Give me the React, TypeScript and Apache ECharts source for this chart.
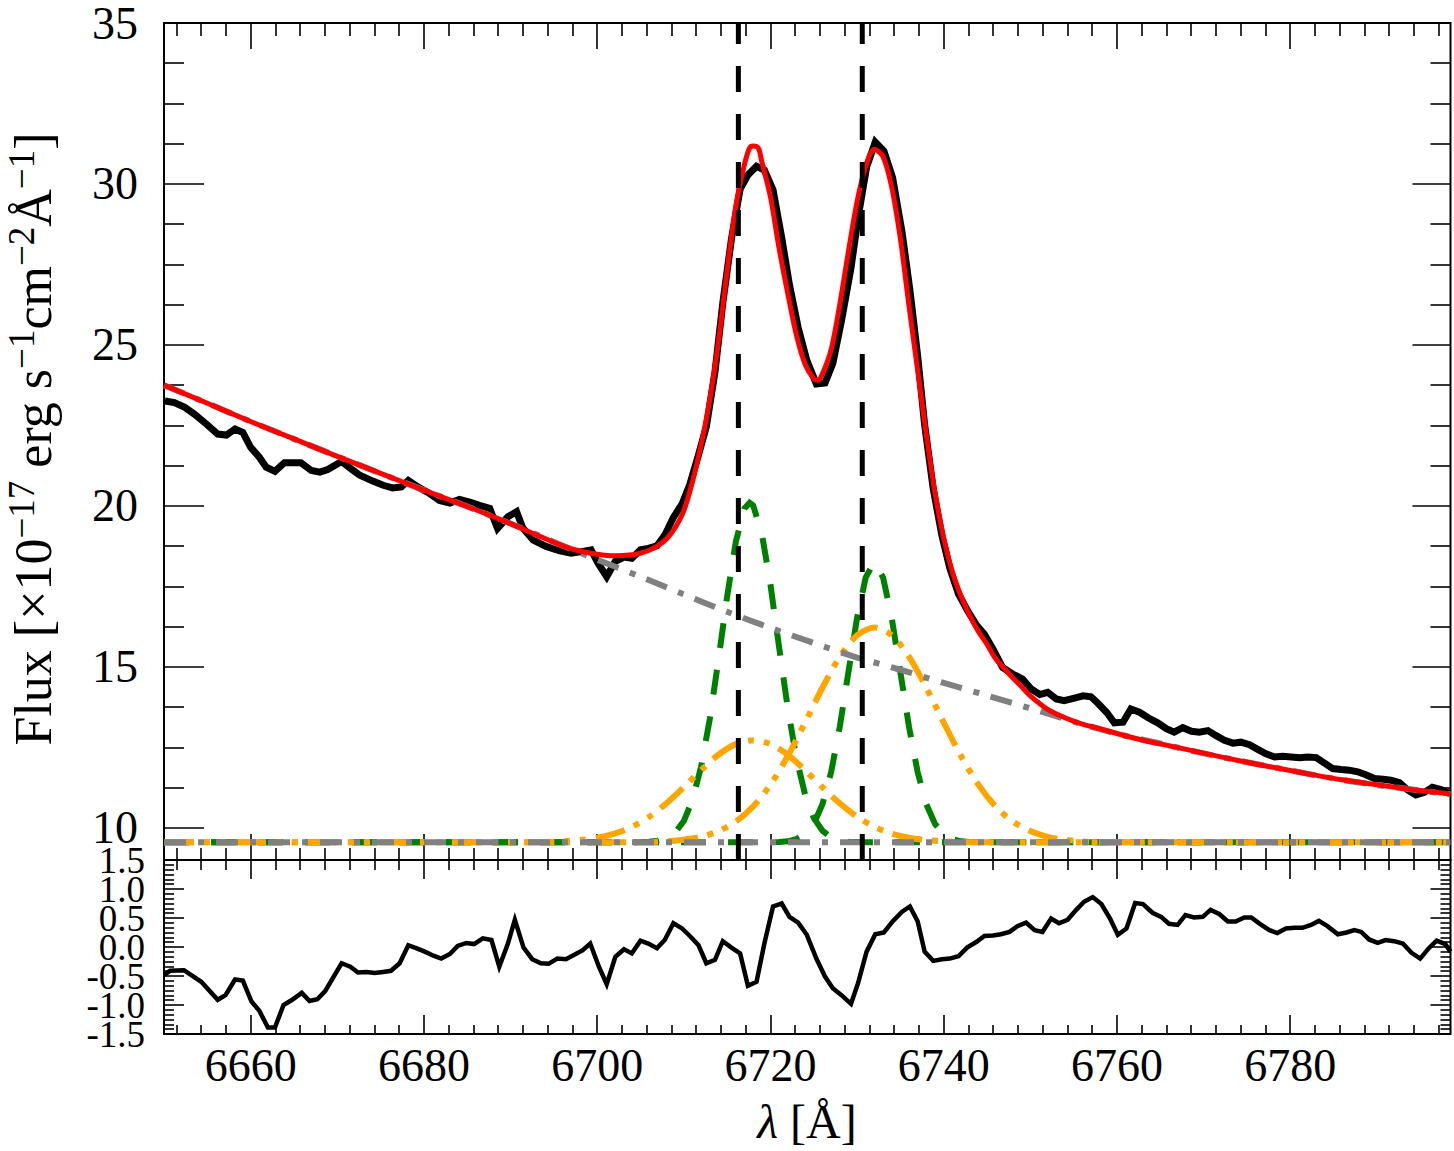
import React, { useEffect, useRef } from 'react';
import * as echarts from 'echarts';

const SERIF = 'Liberation Serif';

// ---------- axes ----------
const X_MIN = 6650;
const X_MAX = 6798.5;
const X_MAJOR = [6660, 6680, 6700, 6720, 6740, 6760, 6780];
const X_MINOR_SPLIT = 7;
const Y_TOP_MIN = 9;
const Y_TOP_MAX = 35;
const Y_TOP_MAJOR = [10, 15, 20, 25, 30, 35];
const Y_TOP_MINOR_STEP = 1.25;
const Y_RES_MIN = -1.5;
const Y_RES_MAX = 1.5;
const Y_RES_STEP = 0.5;
const Y_RES_LABELS_A = [-1.5, -0.5, 0.5, 1.5];
const Y_RES_LABELS_B = [-1.0, 0.0, 1.0];

// ---------- observed spectrum (black) ----------
const OBS_WAVE = [
  6650.1, 6651.2, 6652.4, 6653.5, 6654.9, 6656.2, 6657.2, 6658.2, 6659.1, 6660.0,
  6661.0, 6661.8, 6662.8, 6663.9, 6664.9, 6665.8, 6667.0, 6668.0, 6668.9, 6670.5,
  6671.6, 6672.6, 6674.1, 6675.3, 6676.4, 6677.4, 6678.2, 6679.3, 6680.5, 6681.8,
  6683.0, 6684.1, 6685.3, 6686.4, 6687.6, 6688.5, 6689.7, 6690.7, 6691.4, 6692.6,
  6694.1, 6695.7, 6697.0, 6698.2, 6699.3, 6700.1, 6701.1, 6702.1, 6703.1, 6704.0,
  6705.0, 6705.9, 6706.9, 6707.8, 6708.8, 6709.8, 6710.7, 6711.7, 6712.6, 6713.6,
  6714.5, 6715.5, 6716.5, 6717.4, 6718.4, 6719.3, 6720.3, 6721.3, 6722.2, 6723.2,
  6724.2, 6725.3, 6726.3, 6727.2, 6728.2, 6729.3, 6730.1, 6731.1, 6732.1, 6733.1,
  6734.1, 6735.2, 6736.1, 6737.0, 6737.8, 6738.8, 6739.8, 6740.7, 6741.7, 6742.7,
  6743.8, 6744.7, 6745.7, 6746.8, 6748.0, 6749.1, 6750.1, 6751.1, 6752.0, 6753.0,
  6753.9, 6755.1, 6756.1, 6757.0, 6757.8, 6758.8, 6759.7, 6760.7, 6761.6, 6762.6,
  6763.6, 6764.7, 6765.7, 6766.6, 6767.6, 6768.6, 6769.5, 6770.5, 6771.4, 6772.4,
  6773.4, 6774.3, 6775.3, 6776.3, 6777.2, 6778.2, 6779.1, 6780.1, 6781.1, 6782.0,
  6783.0, 6784.0, 6784.9, 6785.9, 6786.8, 6787.8, 6788.8, 6789.7, 6790.7, 6791.6,
  6792.6, 6793.6, 6794.5, 6795.5, 6796.4, 6797.4, 6798.4,
];
const OBS_FLUX = [
  23.26, 23.21, 23.06, 22.85, 22.54, 22.23, 22.20, 22.39, 22.28, 21.82,
  21.51, 21.20, 21.07, 21.34, 21.34, 21.34, 21.10, 21.05, 21.13, 21.38,
  21.15, 20.95, 20.77, 20.64, 20.56, 20.59, 20.79, 20.59, 20.41, 20.17,
  20.09, 20.20, 20.12, 20.02, 19.92, 19.30, 19.66, 19.82, 19.32, 18.94,
  18.74, 18.60, 18.53, 18.58, 18.63, 18.22, 17.80, 18.28, 18.41, 18.37,
  18.64, 18.68, 18.76, 19.09, 19.64, 20.06, 20.67, 21.59, 22.46, 24.16,
  26.30, 28.29, 29.84, 30.28, 30.55, 30.43, 29.82, 28.33, 26.86, 25.54,
  24.52, 23.79, 23.82, 24.42, 25.75, 27.39, 28.93, 30.52, 31.30, 31.02,
  30.20, 28.49, 26.70, 24.64, 22.52, 20.52, 19.07, 18.07, 17.27, 16.77,
  16.29, 16.01, 15.55, 14.98, 14.77, 14.62, 14.31, 14.14, 14.21, 14.00,
  13.95, 14.03, 14.10, 14.07, 13.87, 13.59, 13.26, 13.28, 13.69, 13.59,
  13.42, 13.26, 13.08, 12.97, 13.11, 13.00, 12.97, 13.02, 12.87, 12.72,
  12.63, 12.66, 12.58, 12.43, 12.30, 12.20, 12.22, 12.20, 12.18, 12.20,
  12.18, 12.00, 11.84, 11.81, 11.79, 11.74, 11.64, 11.53, 11.51, 11.48,
  11.40, 11.17, 11.02, 11.10, 11.26, 11.19, 11.07,
];

// ---------- total model (red) ----------
const MODEL_WAVE = [
  6650, 6655, 6660, 6665, 6670, 6675, 6680, 6685, 6690, 6693,
  6696, 6698, 6700, 6702, 6704, 6705, 6706, 6707, 6708, 6709,
  6710, 6711, 6712, 6713, 6714, 6715, 6716, 6717, 6717.6, 6718,
  6718.6, 6719, 6720, 6721, 6722, 6723, 6724, 6725, 6725.5, 6726,
  6727, 6728, 6729, 6730, 6731, 6732, 6733, 6734, 6735, 6736,
  6737, 6738, 6739, 6740, 6741, 6742, 6743, 6744, 6745, 6746,
  6747, 6748, 6749, 6750, 6752, 6754, 6756, 6758, 6760, 6763,
  6766, 6770, 6774, 6778, 6782, 6786, 6790, 6794, 6798.5,
];
const MODEL_FLUX = [
  23.75, 23.19, 22.62, 22.08, 21.54, 21.01, 20.49, 19.98, 19.45, 19.10,
  18.76, 18.60, 18.50, 18.45, 18.48, 18.53, 18.62, 18.76, 18.97, 19.32,
  19.85, 20.75, 21.90, 23.30, 25.10, 27.30, 29.30, 30.60, 31.12, 31.18,
  31.12, 30.70, 29.60, 28.00, 26.60, 25.30, 24.40, 23.95, 23.90, 24.10,
  24.85, 26.25, 27.90, 29.45, 30.55, 31.08, 30.85, 29.90, 28.30, 26.20,
  24.20, 22.20, 20.40, 19.00, 17.95, 17.20, 16.60, 16.10, 15.70, 15.25,
  14.95, 14.65, 14.38, 14.10, 13.68, 13.42, 13.22, 13.08, 12.93, 12.72,
  12.55, 12.32, 12.09, 11.88, 11.68, 11.49, 11.34, 11.19, 11.05,
];

// ---------- continuum (grey dash-dot) ----------
const CONT_WAVE = [
  6650, 6655, 6660, 6665, 6670, 6675, 6680, 6685, 6690, 6695,
  6700, 6705, 6710, 6715, 6720, 6725, 6730, 6735, 6740, 6745,
  6750, 6755, 6760, 6765, 6770, 6775, 6780, 6785, 6790, 6795, 6798.5,
];
const CONT_FLUX = [
  23.75, 23.19, 22.62, 22.08, 21.54, 21.01, 20.49, 19.98, 19.45, 18.88,
  18.33, 17.80, 17.25, 16.71, 16.21, 15.74, 15.29, 14.91, 14.50, 14.11,
  13.71, 13.30, 12.92, 12.62, 12.31, 12.04, 11.78, 11.53, 11.33, 11.16, 11.04,
];

// ---------- component baseline ----------
const BASE_LEVEL = 9.55;

// narrow components (green dashed)
const G1_WAVE = [
  6650, 6704, 6705, 6706, 6707, 6708, 6709, 6710, 6711, 6712,
  6713, 6714, 6715, 6716, 6717, 6717.6, 6718, 6719, 6720, 6721,
  6722, 6723, 6724, 6725, 6726, 6727, 6728, 6729, 6730, 6731, 6798.5,
];
const G1_FLUX = [
  9.55, 9.55, 9.56, 9.57, 9.60, 9.68, 9.85, 10.21, 10.86, 11.90,
  13.38, 15.22, 17.18, 18.88, 19.92, 20.10, 20.02, 19.15, 17.56, 15.61,
  13.72, 12.16, 11.03, 10.31, 9.91, 9.70, 9.61, 9.57, 9.56, 9.55, 9.55,
];
const G2_WAVE = [
  6650, 6719, 6720, 6721, 6722, 6723, 6724, 6725, 6726, 6727,
  6728, 6729, 6730, 6731, 6732, 6733, 6734, 6735, 6736, 6737,
  6738, 6739, 6740, 6741, 6742, 6743, 6744, 6798.5,
];
const G2_FLUX = [
  9.55, 9.55, 9.55, 9.56, 9.58, 9.65, 9.80, 10.12, 10.73, 11.72,
  13.13, 14.83, 16.52, 17.78, 18.25, 17.78, 16.52, 14.83, 13.13, 11.72,
  10.73, 10.12, 9.80, 9.65, 9.58, 9.56, 9.55, 9.55,
];

// broad components (orange dash-dot-dot)
const O1_WAVE = [
  6650, 6692, 6694, 6696, 6698, 6700, 6702, 6704, 6706, 6708,
  6710, 6712, 6714, 6716, 6718, 6720, 6722, 6724, 6726, 6728,
  6730, 6732, 6734, 6736, 6738, 6740, 6742, 6744, 6798.5,
];
const O1_FLUX = [
  9.55, 9.55, 9.56, 9.58, 9.62, 9.69, 9.82, 10.03, 10.34, 10.76,
  11.26, 11.79, 12.27, 12.60, 12.72, 12.60, 12.27, 11.79, 11.26, 10.76,
  10.34, 10.03, 9.82, 9.69, 9.62, 9.58, 9.56, 9.55, 9.55,
];
const O2_WAVE = [
  6650, 6704, 6706, 6708, 6710, 6712, 6714, 6716, 6718, 6720,
  6722, 6724, 6726, 6728, 6730, 6732, 6734, 6736, 6738, 6740,
  6742, 6744, 6746, 6748, 6750, 6752, 6754, 6756, 6758, 6760, 6798.5,
];
const O2_FLUX = [
  9.55, 9.55, 9.56, 9.58, 9.63, 9.72, 9.90, 10.19, 10.66, 11.34,
  12.23, 13.27, 14.35, 15.31, 15.98, 16.22, 15.98, 15.31, 14.35, 13.27,
  12.23, 11.34, 10.66, 10.19, 9.90, 9.72, 9.63, 9.58, 9.56, 9.55, 9.55,
];

// line centres (vertical dashed)
const LINE_CENTERS = [6716.3, 6730.6];

// ---------- residuals ----------
const RES_WAVE = [
  6650.0, 6650.7, 6652.3, 6654.3, 6656.2, 6657.1, 6658.2, 6659.1, 6660.1, 6661.0,
  6662.0, 6662.8, 6663.8, 6664.8, 6665.9, 6666.8, 6667.7, 6668.6, 6670.5, 6671.5,
  6672.4, 6673.4, 6674.3, 6675.3, 6676.2, 6677.2, 6678.2, 6679.1, 6680.1, 6681.1,
  6682.0, 6683.0, 6683.9, 6684.9, 6685.8, 6686.8, 6687.8, 6688.7, 6689.7, 6690.5,
  6691.5, 6692.5, 6693.5, 6694.4, 6695.4, 6696.4, 6697.3, 6698.3, 6699.2, 6700.2,
  6701.1, 6702.1, 6703.1, 6704.0, 6705.0, 6705.9, 6706.9, 6707.8, 6708.8, 6709.8,
  6710.7, 6711.7, 6712.6, 6713.6, 6714.5, 6715.5, 6716.5, 6717.4, 6718.4, 6719.3,
  6720.3, 6721.3, 6722.2, 6723.2, 6724.2, 6725.3, 6726.3, 6727.2, 6728.2, 6729.3,
  6730.1, 6731.1, 6732.1, 6733.1, 6734.1, 6735.2, 6736.1, 6737.0, 6737.8, 6738.8,
  6739.8, 6740.7, 6741.7, 6742.7, 6743.8, 6744.7, 6745.7, 6746.6, 6747.6, 6748.5,
  6749.5, 6750.5, 6751.4, 6752.4, 6753.3, 6754.3, 6755.3, 6756.2, 6757.2, 6758.2,
  6759.2, 6760.1, 6761.1, 6762.1, 6763.0, 6764.1, 6765.1, 6766.0, 6767.0, 6767.9,
  6768.9, 6769.9, 6770.8, 6771.8, 6772.8, 6773.7, 6774.7, 6775.5, 6776.5, 6777.6,
  6778.5, 6779.5, 6780.5, 6781.4, 6782.4, 6783.3, 6784.3, 6785.5, 6786.5, 6787.4,
  6788.2, 6789.1, 6790.1, 6791.0, 6792.0, 6793.0, 6794.0, 6795.0, 6796.0, 6796.9,
  6797.9, 6798.5,
];
const RES_VALUE = [
  -0.48, -0.41, -0.40, -0.60, -0.91, -0.83, -0.56, -0.58, -0.94, -1.10,
  -1.39, -1.39, -1.00, -0.91, -0.79, -0.93, -0.90, -0.76, -0.28, -0.34,
  -0.44, -0.43, -0.45, -0.43, -0.41, -0.28, 0.03, -0.02, -0.08, -0.15,
  -0.20, -0.12, 0.02, 0.07, 0.05, 0.15, 0.12, -0.34, 0.06, 0.47,
  -0.01, -0.21, -0.28, -0.29, -0.20, -0.21, -0.14, -0.06, 0.06, -0.34,
  -0.64, -0.17, -0.04, -0.11, 0.11, 0.06, -0.02, 0.12, 0.41, 0.32,
  0.19, 0.03, -0.28, -0.22, 0.10, -0.01, -0.11, -0.67, -0.60, 0.06,
  0.70, 0.75, 0.52, 0.42, 0.21, -0.20, -0.51, -0.71, -0.83, -0.98,
  -0.63, -0.08, 0.22, 0.25, 0.44, 0.61, 0.70, 0.44, -0.08, -0.24,
  -0.21, -0.20, -0.16, -0.01, 0.09, 0.19, 0.20, 0.22, 0.26, 0.36,
  0.42, 0.29, 0.26, 0.49, 0.41, 0.47, 0.64, 0.78, 0.86, 0.74,
  0.49, 0.21, 0.32, 0.76, 0.74, 0.59, 0.52, 0.40, 0.38, 0.55,
  0.51, 0.52, 0.64, 0.57, 0.44, 0.44, 0.51, 0.51, 0.40, 0.29,
  0.24, 0.32, 0.33, 0.33, 0.38, 0.45, 0.36, 0.22, 0.25, 0.29,
  0.26, 0.13, 0.07, 0.12, 0.10, 0.06, -0.10, -0.20, -0.02, 0.11,
  0.05, -0.08,
];

// ---------- helpers ----------
const pairs = (xs: number[], ys: number[]) => xs.map((x, i) => [x, ys[i]]);

const xMinorTicks = (() => {
  const step = (X_MAJOR[1] - X_MAJOR[0]) / X_MINOR_SPLIT;
  const out: number[] = [];
  for (let v = X_MAJOR[0] - step; v > X_MIN; v -= step) out.push(+v.toFixed(4));
  for (let i = 0; i < X_MAJOR.length; i++) {
    for (let k = 1; k < X_MINOR_SPLIT; k++) {
      const v = X_MAJOR[i] + k * step;
      if (v < X_MAX) out.push(+v.toFixed(4));
    }
  }
  return out.sort((a, b) => a - b);
})();

const yTopMinorTicks = (() => {
  const out: number[] = [];
  for (let v = Y_TOP_MAJOR[0]; v < Y_TOP_MAX; v += Y_TOP_MINOR_STEP) {
    if (Math.abs((v - Y_TOP_MAJOR[0]) % 5) > 1e-6) out.push(v);
  }
  return out;
})();

const TICK_COLOR = '#000';
const TICK_W = 1.6;

function xAxis(gridIndex: number, position: string, values: number[], length: number, labels = false) {
  return {
    type: 'value',
    gridIndex,
    position,
    min: X_MIN,
    max: X_MAX,
    splitLine: { show: false },
    axisLine: { show: false, onZero: false },
    axisTick: {
      show: true,
      inside: true,
      length,
      customValues: values,
      lineStyle: { color: TICK_COLOR, width: TICK_W },
    },
    axisLabel: labels
      ? {
          show: true,
          customValues: X_MAJOR,
          margin: 8,
          fontFamily: SERIF,
          fontSize: 46,
          color: '#000',
          formatter: (v: number) => String(v),
        }
      : { show: false },
  };
}

function yTopAxis(position: string, values: number[], length: number, labels = false) {
  return {
    type: 'value',
    gridIndex: 0,
    position,
    min: Y_TOP_MIN,
    max: Y_TOP_MAX,
    splitLine: { show: false },
    axisLine: { show: false, onZero: false },
    axisTick: {
      show: true,
      inside: true,
      length,
      customValues: values,
      lineStyle: { color: TICK_COLOR, width: TICK_W },
    },
    axisLabel: labels
      ? {
          show: true,
          customValues: Y_TOP_MAJOR,
          showMinLabel: true,
          showMaxLabel: true,
          margin: 26,
          fontFamily: SERIF,
          fontSize: 46,
          lineHeight: 30,
          color: '#000',
          formatter: (v: number) => String(v),
        }
      : { show: false },
  };
}

function yResAxis(position: string, ticks: boolean, labelValues: number[] | null) {
  return {
    type: 'value',
    gridIndex: 1,
    position,
    min: Y_RES_MIN,
    max: Y_RES_MAX,
    interval: Y_RES_STEP,
    splitLine: { show: false },
    axisLine: { show: false, onZero: false },
    axisTick: { show: ticks, inside: true, length: 20, lineStyle: { color: TICK_COLOR, width: TICK_W } },
    minorTick: { show: ticks, splitNumber: 6, length: 10, lineStyle: { color: TICK_COLOR, width: TICK_W } },
    minorSplitLine: { show: false },
    axisLabel: labelValues
      ? {
          show: true,
          customValues: labelValues,
          showMinLabel: true,
          showMaxLabel: true,
          margin: 19,
          fontFamily: SERIF,
          fontSize: 37,
          lineHeight: 20,
          color: '#000',
          formatter: (v: number) => v.toFixed(1),
        }
      : { show: false },
  };
}

function lineSeries(
  name: string,
  data: number[][],
  color: string,
  width: number,
  type: any,
  z: number,
  extra: any = {}
) {
  return {
    name,
    type: 'line',
    xAxisIndex: 0,
    yAxisIndex: 0,
    data,
    symbol: 'none',
    silent: true,
    z,
    lineStyle: { color, width, type, cap: 'butt', join: 'miter' },
    ...extra,
  };
}

const GREEN = '#008000';
const ORANGE = '#FFA500';
const GREY = '#808080';
const RED = '#FF0000';
const DASH = [25, 22];
const DASH_DOT_DOT = [30, 10, 6, 10, 6, 10];
const DASH_DOT = [22, 12, 6, 12];

const App: React.FC = () => {
  const ref = useRef<HTMLDivElement>(null);

  useEffect(() => {
    if (!ref.current) return;
    const chart = echarts.init(ref.current, undefined, { renderer: 'svg' });

    const option: any = {
      animation: false,
      backgroundColor: '#ffffff',
      grid: [
        { left: 164, top: 18, width: 1286.5, height: 842, show: true, borderColor: '#000', borderWidth: 2, backgroundColor: 'transparent' },
        { left: 164, top: 860, width: 1286.5, height: 174, show: true, borderColor: '#000', borderWidth: 2, backgroundColor: 'transparent' },
      ],
      xAxis: [
        xAxis(0, 'bottom', X_MAJOR, 26),
        xAxis(0, 'bottom', xMinorTicks, 12),
        xAxis(0, 'top', X_MAJOR, 26),
        xAxis(0, 'top', xMinorTicks, 13),
        xAxis(1, 'bottom', X_MAJOR, 19, true),
        xAxis(1, 'bottom', xMinorTicks, 9),
        xAxis(1, 'top', X_MAJOR, 19),
        xAxis(1, 'top', xMinorTicks, 10),
      ],
      yAxis: [
        yTopAxis('left', Y_TOP_MAJOR, 40, true),
        yTopAxis('left', yTopMinorTicks, 20),
        yTopAxis('right', Y_TOP_MAJOR, 38),
        yTopAxis('right', yTopMinorTicks, 20),
        yResAxis('left', true, Y_RES_LABELS_A),
        yResAxis('right', true, null),
        yResAxis('left', false, Y_RES_LABELS_B),
      ],
      series: [
        lineSeries('observed', pairs(OBS_WAVE, OBS_FLUX), '#000', 7, 'solid', 2),
        lineSeries('narrow 6716', pairs(G1_WAVE, G1_FLUX), GREEN, 6, DASH, 3),
        lineSeries('narrow 6731', pairs(G2_WAVE, G2_FLUX), GREEN, 6, DASH, 3),
        lineSeries('broad 6716', pairs(O1_WAVE, O1_FLUX), ORANGE, 6, DASH_DOT_DOT, 4, { smooth: 0.3 }),
        lineSeries('broad 6731', pairs(O2_WAVE, O2_FLUX), ORANGE, 6, DASH_DOT_DOT, 4, { smooth: 0.3 }),
        lineSeries('continuum', pairs(CONT_WAVE, CONT_FLUX), GREY, 6, DASH_DOT, 5, { smooth: 0.3 }),
        lineSeries('baseline', [[X_MIN, BASE_LEVEL], [X_MAX, BASE_LEVEL]], GREY, 6, DASH_DOT, 5),
        lineSeries('model', pairs(MODEL_WAVE, MODEL_FLUX), RED, 5, 'solid', 6, { smooth: 0.3 }),
        ...LINE_CENTERS.map((c, i) =>
          lineSeries('line ' + i, [[c, Y_TOP_MIN], [c, Y_TOP_MAX]], '#000', 5, [26, 22], 7)
        ),
        {
          name: 'residual',
          type: 'line',
          xAxisIndex: 4,
          yAxisIndex: 4,
          data: pairs(RES_WAVE, RES_VALUE),
          symbol: 'none',
          silent: true,
          lineStyle: { color: '#000', width: 4.5, join: 'miter' },
        },
      ],
      graphic: [
        {
          type: 'text',
          x: 31,
          y: 439,
          rotation: Math.PI / 2,
          style: {
            text: '{b|Flux [×10}{s|−17}{b| erg s}{s|−1}{b|cm}{s|−2}{b|Å}{s|−1}{b|]}',
            rich: {
              b: { fontFamily: SERIF, fontSize: 52, lineHeight: 56, verticalAlign: 'bottom', fill: '#000' },
              s: { fontFamily: SERIF, fontSize: 37, lineHeight: 30, verticalAlign: 'top', fill: '#000' },
            },
            fontFamily: SERIF,
            fontSize: 52,
            fill: '#000',
            align: 'center',
            textAlign: 'center',
            verticalAlign: 'middle',
            textVerticalAlign: 'middle',
          },
        },
        {
          type: 'text',
          x: 807,
          y: 1121,
          style: {
            text: '{i|λ} [Å]',
            rich: {
              i: { fontFamily: SERIF, fontSize: 48, fontStyle: 'italic', fill: '#000' },
            },
            fontFamily: SERIF,
            fontSize: 48,
            fill: '#000',
            align: 'center',
            textAlign: 'center',
            verticalAlign: 'middle',
            textVerticalAlign: 'middle',
          },
        },
      ],
    };

    chart.setOption(option);
    return () => chart.dispose();
  }, []);

  return (
    <div
      ref={ref}
      style={{ position: 'absolute', left: 0, top: 0, width: 1454, height: 1151, background: '#fff' }}
    />
  );
};

export default App;
